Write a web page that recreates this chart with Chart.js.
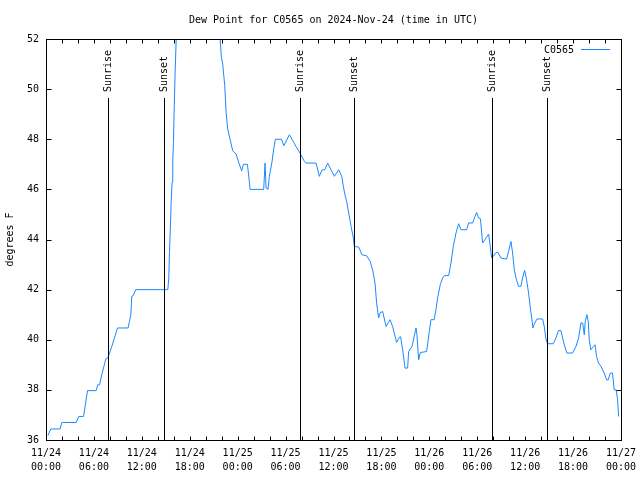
<!DOCTYPE html>
<html>
<head>
<meta charset="utf-8">
<title>Dew Point for C0565</title>
<script src="https://cdn.jsdelivr.net/npm/chart.js@4.4.1/dist/chart.umd.min.js"></script>
<style>
    html, body { margin: 0; padding: 0; background: #ffffff; overflow: hidden; }
    #chartBox { width: 640px; height: 480px; }
</style>
</head>
<body>
<div id="chartBox"><canvas id="dewPointChart"></canvas></div>
<script>
// hours since 2024-11-24 00:00 UTC
const hours = [
    0.23, 0.6, 1.77, 1.98, 3.78, 4.1, 4.7, 4.9, 5.2, 6.28, 6.48, 6.7, 6.98, 7.49, 7.74, 8.24, 8.95,
    10.28, 10.45, 10.62, 10.74, 10.9, 11.24, 15.25, 15.37, 15.46, 15.58, 15.67, 15.79, 15.87, 15.96,
    16.04, 16.17, 16.3, 16.6, 17.5, 19.0, 20.5, 21.4, 21.8, 21.96, 22.13, 22.38, 22.55, 22.76, 23.05,
    23.38, 23.8, 24.2, 24.5, 24.72, 25.22, 25.47, 25.55, 27.26, 27.43, 27.56, 27.8, 27.97, 28.3, 28.5,
    28.72, 29.5, 29.77, 30.48, 31.31, 31.8, 32.35, 32.57, 33.82, 34.23, 34.57, 34.9, 35.27, 36.1,
    36.65, 37.03, 37.23, 37.48, 37.65, 37.9, 38.2, 38.49, 38.61, 39.15, 39.57, 40.15, 40.58, 40.9,
    41.2, 41.4, 41.65, 41.83, 42.15, 42.58, 43.08, 43.4, 43.9, 44.24, 44.4, 44.66, 44.95, 45.28,
    45.41, 45.83, 46.33, 46.45, 46.66, 46.87, 47.66, 48.0, 48.2, 48.6, 48.83, 49.04, 49.37, 49.66,
    49.87, 50.42, 50.71, 51.0, 51.34, 51.67, 51.96, 52.67, 52.92, 53.42, 53.72, 53.92, 54.17, 54.4,
    54.67, 55.1, 55.42, 55.63, 55.8, 56.0, 56.34, 56.6, 56.97, 57.67, 57.92, 58.22, 58.43, 58.64,
    58.85, 59.17, 59.46, 59.67, 59.93, 60.18, 60.43, 60.64, 60.85, 60.98, 61.1, 61.48, 62.18, 62.39,
    62.6, 62.8, 63.52, 63.85, 64.18, 64.47, 64.89, 65.23, 65.93, 66.36, 66.69, 66.98, 67.2, 67.4,
    67.52, 67.73, 67.9, 68.02, 68.23, 68.56, 68.75, 68.94, 69.19, 69.49, 69.9, 70.19, 70.4, 70.65,
    70.94, 71.15, 71.4, 71.57, 71.7
];

// dew point, degrees F
const dewF = [
    36.17, 36.44, 36.44, 36.7, 36.7, 36.94, 36.94, 37.34, 37.97, 37.97, 38.2, 38.2, 38.6, 39.23, 39.27, 39.73, 40.47,
    40.47, 40.73, 41.0, 41.73, 41.75, 42.0, 42.0, 42.42, 43.48, 44.55, 45.48, 46.28, 47.08, 47.87,
    49.07, 50.67, 51.97, 52.8, 53.6, 54.0, 53.6, 52.6, 52.0, 51.27, 51.0, 50.14, 49.07, 48.4, 48.0,
    47.54, 47.41, 47.01, 46.74, 47.0, 47.0, 46.28, 46.0, 46.0, 47.05, 46.05, 46.0, 46.52, 47.1, 47.58,
    48.0, 48.0, 47.74, 48.18, 47.71, 47.45, 47.12, 47.05, 47.05, 46.52, 46.78, 46.78, 47.05, 46.52,
    46.78, 46.52, 46.12, 45.72, 45.52, 45.06, 44.52, 44.06, 43.72, 43.7, 43.39, 43.35, 43.13, 42.79,
    42.26, 41.46, 40.87, 41.07, 41.13, 40.53, 40.8, 40.53, 39.89, 40.1, 40.12, 39.6, 38.87, 38.87,
    39.53, 39.73, 40.47, 40.2, 39.2, 39.49, 39.53, 40.33, 40.8, 40.8, 41.2, 41.67, 42.2, 42.46,
    42.56, 42.56, 43.06, 43.72, 44.26, 44.63, 44.39, 44.39, 44.66, 44.66, 44.92, 45.08, 44.86, 44.83,
    43.86, 44.06, 44.22, 43.72, 43.26, 43.33, 43.48, 43.48, 43.26, 43.22, 43.52, 43.92, 43.46, 42.79,
    42.46, 42.13, 42.13, 42.46, 42.77, 42.39, 41.86, 41.27, 40.8, 40.47, 40.6, 40.83, 40.83, 40.53,
    40.03, 39.84, 39.84, 40.07, 40.37, 40.37, 39.8, 39.47, 39.47, 39.73, 40.07, 40.67, 40.67, 40.2,
    40.73, 41.0, 40.73, 40.0, 39.6, 39.73, 39.8, 39.33, 39.07, 38.94, 38.67, 38.4, 38.4, 38.67,
    38.67, 38.0, 38.0, 37.61, 36.94
];

const eventHours = [7.73, 14.72, 31.77, 38.62, 55.8, 62.68];
const eventLabels = ["Sunrise", "Sunset", "Sunrise", "Sunset", "Sunrise", "Sunset"];

const tickDates = ["11/24", "11/24", "11/24", "11/24", "11/25", "11/25", "11/25", "11/25", "11/26", "11/26", "11/26", "11/26", "11/27"];
const tickTimes = ["00:00", "06:00", "12:00", "18:00", "00:00", "06:00", "12:00", "18:00", "00:00", "06:00", "12:00", "18:00", "00:00"];

const titleText = "Dew Point for C0565 on 2024-Nov-24 (time in UTC)";
const seriesName = "C0565";
const lineColor = "#1a88ff";
const monoFont = "'DejaVu Sans Mono', 'Liberation Mono', monospace";

// gnuplot style: frame, inward ticks on all sides, sun lines, title, key
const gnuplotDecor = {
    id: 'gnuplotDecor',
    afterDatasetsDraw(chart) {
        const ctx = chart.ctx;
        const area = chart.chartArea;
        const xs = chart.scales.x;
        const ys = chart.scales.y;
        ctx.save();
        ctx.strokeStyle = '#000000';
        ctx.fillStyle = '#000000';
        ctx.lineWidth = 1;

        // sunrise / sunset markers
        ctx.font = '10px ' + monoFont;
        eventHours.forEach((h, i) => {
            const px = Math.round(xs.getPixelForValue(h)) + 0.5;
            ctx.beginPath();
            ctx.moveTo(px, area.top + 59);
            ctx.lineTo(px, area.bottom);
            ctx.stroke();
            ctx.save();
            ctx.translate(px, area.top + 53);
            ctx.rotate(-Math.PI / 2);
            ctx.textAlign = 'left';
            ctx.textBaseline = 'middle';
            ctx.fillText(eventLabels[i], 0, 0);
            ctx.restore();
        });

        // frame
        const l = Math.round(area.left) + 0.5;
        const r = Math.round(area.right) + 0.5;
        const t = Math.round(area.top) + 0.5;
        const b = Math.round(area.bottom) + 0.5;
        ctx.strokeRect(l, t, r - l, b - t);

        // inward ticks
        ctx.beginPath();
        for (let h = xs.min; h <= xs.max; h += 2) {
            const px = Math.round(xs.getPixelForValue(h)) + 0.5;
            ctx.moveTo(px, b); ctx.lineTo(px, b - 4);
            ctx.moveTo(px, t); ctx.lineTo(px, t + 4);
        }
        for (let v = ys.min; v <= ys.max; v += 2) {
            const py = Math.round(ys.getPixelForValue(v)) + 0.5;
            ctx.moveTo(l, py); ctx.lineTo(l + 5, py);
            ctx.moveTo(r, py); ctx.lineTo(r - 5, py);
        }
        ctx.stroke();

        // title
        ctx.textAlign = 'center';
        ctx.textBaseline = 'middle';
        ctx.fillText(titleText, (area.left + area.right) / 2, 20);

        // key
        ctx.textAlign = 'right';
        ctx.fillText(seriesName, area.right - 47, area.top + 11);
        ctx.strokeStyle = lineColor;
        ctx.beginPath();
        ctx.moveTo(area.right - 40, area.top + 10.5);
        ctx.lineTo(area.right - 11, area.top + 10.5);
        ctx.stroke();
        ctx.restore();
    }
};

function initializeChart() {
    const ctx = document.getElementById('dewPointChart').getContext('2d');
    const points = hours.map((h, i) => ({ x: h, y: dewF[i] }));

    new Chart(ctx, {
        type: 'line',
        data: {
            datasets: [{
                label: seriesName,
                data: points,
                borderColor: lineColor,
                borderWidth: 1,
                pointRadius: 0,
                tension: 0,
                fill: false,
                clip: 0
            }]
        },
        options: {
            responsive: true,
            maintainAspectRatio: false,
            animation: false,
            events: [],
            layout: { padding: { left: 0, right: 19, top: 39, bottom: 0 } },
            plugins: {
                legend: { display: false },
                title: { display: false },
                tooltip: { enabled: false }
            },
            scales: {
                x: {
                    type: 'linear',
                    min: 0,
                    max: 72,
                    afterFit: (scale) => {
                        scale.height = 40;
                        scale.paddingLeft = 0;
                        scale.paddingRight = 0;
                    },
                    grid: { display: false, drawTicks: false },
                    border: { display: false },
                    ticks: {
                        stepSize: 2,
                        autoSkip: false,
                        maxRotation: 0,
                        padding: 6,
                        color: '#000000',
                        font: { family: monoFont, size: 10, lineHeight: 1.4 },
                        callback: (v) => {
                            if (v % 6 !== 0) return '';
                            const i = v / 6;
                            return [tickDates[i], tickTimes[i]];
                        }
                    }
                },
                y: {
                    min: 36,
                    max: 52,
                    afterFit: (scale) => { scale.width = 46; },
                    grid: { display: false, drawTicks: false },
                    border: { display: false },
                    title: {
                        display: true,
                        text: 'degrees F',
                        color: '#000000',
                        padding: { top: 4, bottom: 0 },
                        font: { family: monoFont, size: 10 }
                    },
                    ticks: {
                        stepSize: 2,
                        padding: 7,
                        color: '#000000',
                        font: { family: monoFont, size: 10 }
                    }
                }
            }
        },
        plugins: [gnuplotDecor]
    });
}

document.addEventListener("DOMContentLoaded", initializeChart);
</script>
</body>
</html>
